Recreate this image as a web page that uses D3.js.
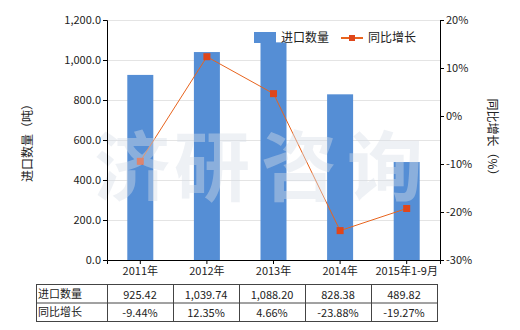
<!DOCTYPE html>
<html>
<head>
<meta charset="utf-8">
<script src="https://cdn.jsdelivr.net/npm/d3@7"></script>
<style>
  body { margin: 0; background: #fff; }
  text { font-family: "Noto Sans CJK SC", "Noto Sans", sans-serif; fill: #222; }
</style>
</head>
<body>
<div id="chart"></div>
<script>
'use strict';
var categories = ['2011年', '2012年', '2013年', '2014年', '2015年1-9月'];
var importQty = [925.42, 1039.74, 1088.20, 828.38, 489.82];
var growth = [-9.44, 12.35, 4.66, -23.88, -19.27];
var qtyLabels = ['925.42', '1,039.74', '1,088.20', '828.38', '489.82'];
var growthLabels = ['-9.44%', '12.35%', '4.66%', '-23.88%', '-19.27%'];
var leftTicks = [0, 200, 400, 600, 800, 1000, 1200];
var rightTicks = [-30, -20, -10, 0, 10, 20];

var width = 520, height = 330;
var plotL = 107, plotR = 440, plotT = 20, plotB = 260;
var barColor = '#558ed5';
var lineColor = '#e8641e';
var markColor = '#e0461a';

var svg = d3.select('#chart').append('svg')
  .attr('width', width).attr('height', height);

var x = d3.scaleBand().domain(categories).range([plotL, plotR]).paddingInner(0.6).paddingOuter(0.3);
var xc = function(d) { return x(d) + x.bandwidth() / 2; };
var y = d3.scaleLinear().domain([0, 1200]).range([plotB, plotT]);
var y2 = d3.scaleLinear().domain([-30, 20]).range([plotB, plotT]);

/* gridlines */
svg.append('g').selectAll('line').data(leftTicks.slice(1)).enter().append('line')
  .attr('x1', plotL).attr('x2', plotR)
  .attr('y1', function(d) { return y(d) + 0.5; })
  .attr('y2', function(d) { return y(d) + 0.5; })
  .attr('stroke', '#e4e4e4');

/* bars */
svg.append('g').selectAll('rect').data(importQty).enter().append('rect')
  .attr('x', function(d, i) { return xc(categories[i]) - 13; })
  .attr('width', 26)
  .attr('y', function(d) { return y(d); })
  .attr('height', function(d) { return plotB - y(d); })
  .attr('fill', barColor);

/* line */
var line = d3.line()
  .x(function(d, i) { return xc(categories[i]); })
  .y(function(d) { return y2(d); });
svg.append('path').datum(growth)
  .attr('d', line).attr('fill', 'none')
  .attr('stroke', lineColor).attr('stroke-width', 1);
svg.append('g').selectAll('rect').data(growth).enter().append('rect')
  .attr('x', function(d, i) { return xc(categories[i]) - 3.5; })
  .attr('y', function(d) { return y2(d) - 3.5; })
  .attr('width', 7).attr('height', 7)
  .attr('fill', markColor);

/* watermark, on top of the marks */
var wm = ['济', '研', '咨', '询'];
var wmX = [132, 212, 299, 385];
svg.append('g').selectAll('text').data(wm).enter().append('text')
  .attr('x', function(d, i) { return wmX[i]; })
  .attr('y', 195)
  .attr('text-anchor', 'middle')
  .style('font-size', '76px')
  .style('font-weight', 'bold')
  .style('fill', 'rgb(215,222,232)')
  .style('fill-opacity', 0.42)
  .text(function(d) { return d; });

/* axes */
var fmt = d3.format(',.1f');
var gl = svg.append('g').attr('transform', 'translate(' + plotL + ',0)')
  .call(d3.axisLeft(y).tickValues(leftTicks).tickFormat(fmt).tickSizeOuter(0).tickSize(4));
var gr = svg.append('g').attr('transform', 'translate(' + plotR + ',0)')
  .call(d3.axisRight(y2).tickValues(rightTicks).tickFormat(function(d) { return d + '%'; }).tickSizeOuter(0).tickSize(4));
var gb = svg.append('g').attr('transform', 'translate(0,' + plotB + ')')
  .call(d3.axisBottom(x).tickSizeOuter(0).tickSize(4));
[gl, gr, gb].forEach(function(g) {
  g.select('.domain').attr('stroke', '#000');
  g.selectAll('.tick line').attr('stroke', '#000');
  g.selectAll('.tick text').style('font-size', '11px').style('fill', '#222')
    .style('font-family', '"Noto Sans CJK SC", sans-serif');
});
gl.selectAll('.tick text').attr('x', -6);
gr.selectAll('.tick text').attr('x', 6);
gb.selectAll('.tick text').attr('y', 7);

/* axis titles */
svg.append('text')
  .attr('transform', 'translate(32,' + (plotT + plotB) / 2 + ') rotate(-90)')
  .attr('text-anchor', 'middle').style('font-size', '12px')
  .text('进口数量（吨）');
svg.append('text')
  .attr('transform', 'translate(488,' + (plotT + plotB) / 2 + ') rotate(90)')
  .attr('text-anchor', 'middle').style('font-size', '12px')
  .text('同比增长（%）');

/* legend */
var lg = svg.append('g');
lg.append('rect').attr('x', 254).attr('y', 32).attr('width', 22).attr('height', 11).attr('fill', barColor);
lg.append('text').attr('x', 281).attr('y', 42).style('font-size', '12px').text('进口数量');
lg.append('line').attr('x1', 341).attr('x2', 363).attr('y1', 38).attr('y2', 38)
  .attr('stroke', lineColor).attr('stroke-width', 2);
lg.append('rect').attr('x', 349).attr('y', 35).attr('width', 6).attr('height', 6).attr('fill', markColor);
lg.append('text').attr('x', 368).attr('y', 42).style('font-size', '12px').text('同比增长');

/* data table */
var tLeft = 36, tFirst = 107, colW = 66, tTop = 284, rowH = 18.5;
var rows = [['进口数量', qtyLabels], ['同比增长', growthLabels]];
var tEnd = tFirst + colW * categories.length;
var tg = svg.append('g');
tg.append('rect').attr('x', tLeft + 0.5).attr('y', tTop + 0.5)
  .attr('width', tEnd - tLeft).attr('height', rowH * 2)
  .attr('fill', 'none').attr('stroke', '#444');
tg.append('line').attr('x1', tLeft).attr('x2', tEnd + 0.5)
  .attr('y1', tTop + rowH + 0.5).attr('y2', tTop + rowH + 0.5).attr('stroke', '#444');
d3.range(categories.length).forEach(function(i) {
  var cx = tFirst + colW * i + 0.5;
  tg.append('line').attr('x1', cx).attr('x2', cx).attr('y1', tTop).attr('y2', tTop + rowH * 2)
    .attr('stroke', '#444');
});
rows.forEach(function(r, j) {
  var ty = tTop + rowH * j + 13.5;
  tg.append('text').attr('x', tLeft + 2).attr('y', ty).style('font-size', '11px').text(r[0]);
  r[1].forEach(function(v, i) {
    tg.append('text').attr('x', tFirst + colW * i + colW / 2).attr('y', ty + 1)
      .attr('text-anchor', 'middle').style('font-size', '11px').text(v);
  });
});
</script>
</body>
</html>
